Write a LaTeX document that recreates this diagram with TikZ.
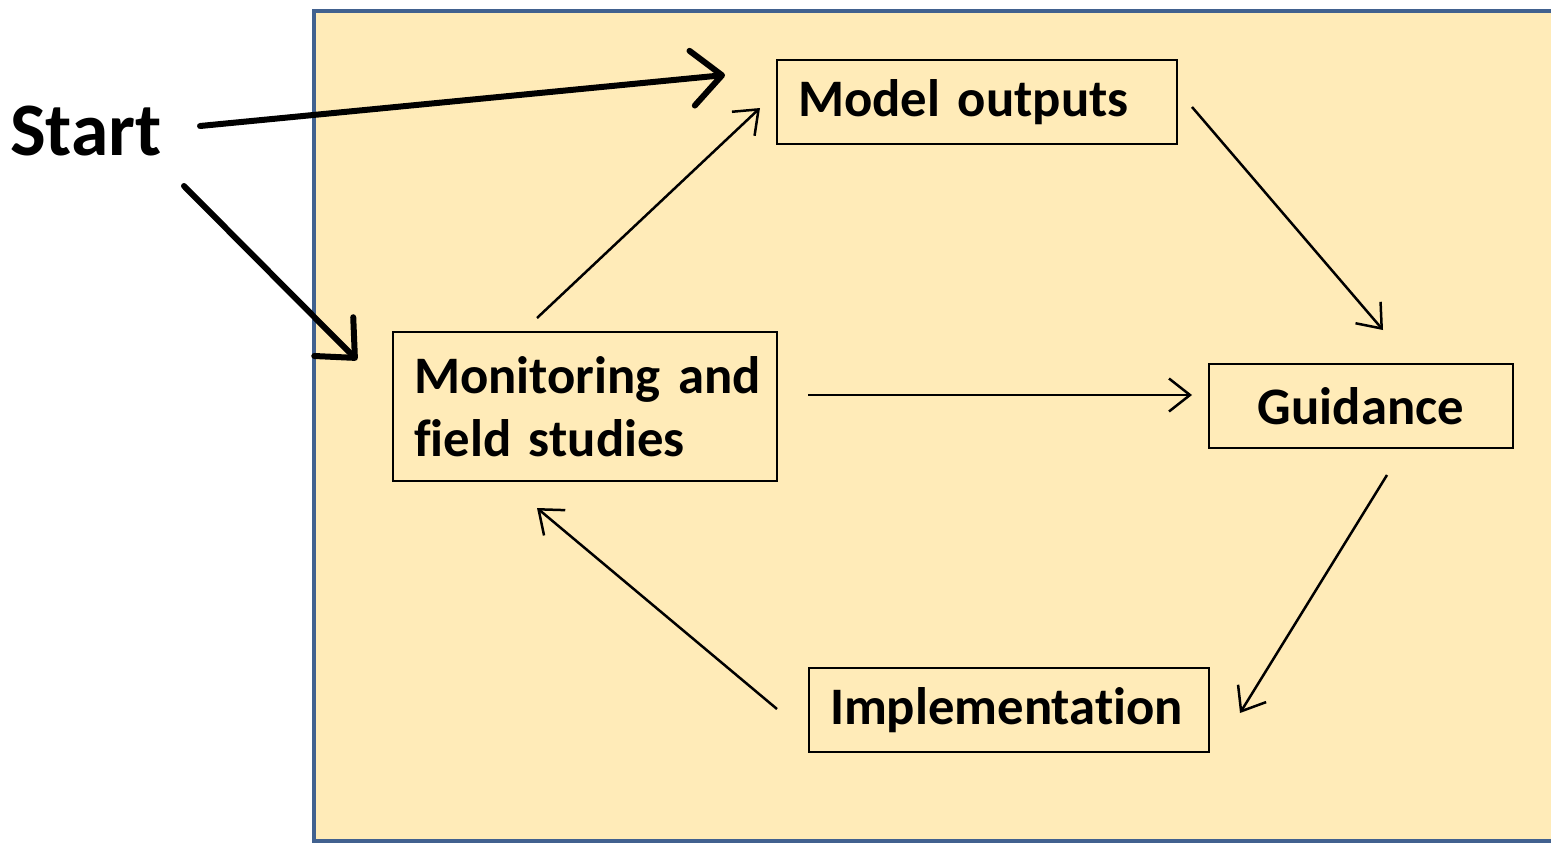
\documentclass[tikz,border=0pt]{standalone}
\usepackage{fontspec}
\setmainfont{Carlito}[Ligatures={NoCommon,NoRare}]
\usetikzlibrary{arrows.meta}
\definecolor{bgfill}{HTML}{FFEBB8}
\definecolor{bgline}{HTML}{41618F}
\begin{document}
\begin{tikzpicture}[x=0.02cm,y=-0.02cm,
  box/.style={draw=black, line width=0.04cm, inner xsep=0.42cm, inner ysep=0pt, font=\fontsize{30}{35.7}\selectfont\bfseries, align=left},
  thin/.style={line width=0.05cm, -{Straight Barb[length=0.42cm,width=0.66cm,line width=0.05cm]}},
  thick/.style={line width=0.12cm, line cap=round, -{Straight Barb[length=0.6cm,width=1.1cm,line width=0.12cm,round]}}]
\useasboundingbox (0,0) rectangle (1551,842);
\draw[fill=bgfill, draw=bgline, line width=0.08cm] (314,11) rectangle (1580,841);
\node[anchor=center, font=\fontsize{43}{50}\selectfont\bfseries] (start) at (86,131) {Start};
\node[box, anchor=north west, minimum height=1.68cm, text width=7.16cm] (model) at (776,59) {Model~outputs};
\node[box, anchor=north west, minimum height=2.98cm, text width=6.84cm] (mon) at (392,331) {Monitoring~and\\field~studies};
\node[box, anchor=north west, minimum height=1.68cm, text width=5.24cm, align=center] (guid) at (1208,363) {Guidance};
\node[box, anchor=north west, minimum height=1.68cm, text width=7.16cm] (impl) at (808,667) {Implementation};
\coordinate (s1) at (200,126); \coordinate (e1) at (725,75);
\coordinate (s2) at (184,186); \coordinate (e2) at (357,360);
\coordinate (s3) at (537,318); \coordinate (e3) at (760,108);
\coordinate (s4) at (1192,107); \coordinate (e4) at (1383,330);
\coordinate (s5) at (808,395); \coordinate (e5) at (1192,395);
\coordinate (s6) at (1387,475); \coordinate (e6) at (1240,713);
\coordinate (s7) at (777,709); \coordinate (e7) at (537,508);
\draw[thick] (s1) -- (e1);
\draw[thick] (s2) -- (e2);
\draw[thin] (s3) -- (e3);
\draw[thin] (s4) -- (e4);
\draw[thin] (s5) -- (e5);
\draw[thin] (s6) -- (e6);
\draw[thin] (s7) -- (e7);
\end{tikzpicture}
\end{document}
